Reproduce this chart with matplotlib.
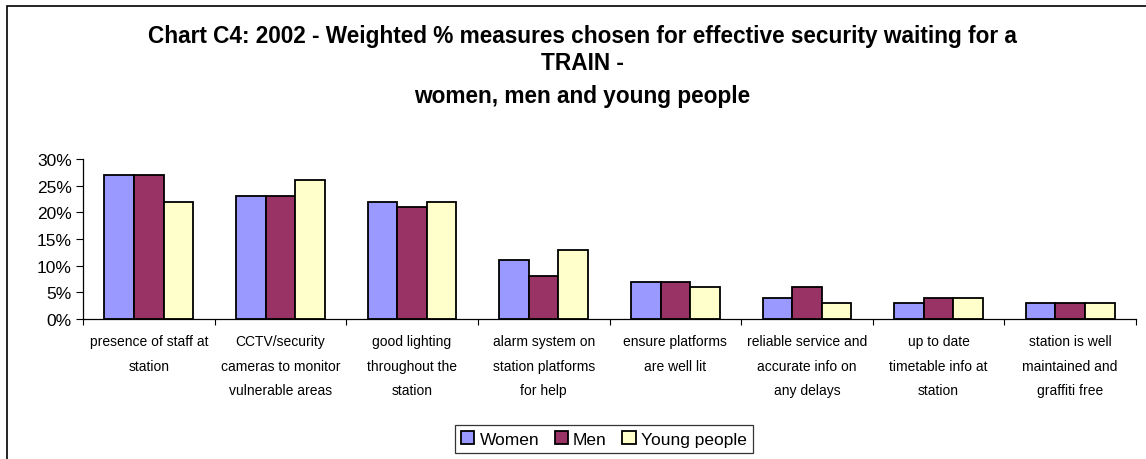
import matplotlib
matplotlib.use("Agg")
import matplotlib.pyplot as plt
import numpy as np
from matplotlib.patches import Rectangle
from matplotlib.ticker import FuncFormatter

categories = [
    "presence of staff at\nstation",
    "CCTV/security\ncameras to monitor\nvulnerable areas",
    "good lighting\nthroughout the\nstation",
    "alarm system on\nstation platforms\nfor help",
    "ensure platforms\nare well lit",
    "reliable service and\naccurate info on\nany delays",
    "up to date\ntimetable info at\nstation",
    "station is well\nmaintained and\ngraffiti free",
]
women = [27, 23, 22, 11, 7, 4, 3, 3]
men = [27, 23, 21, 8, 7, 6, 4, 3]
young = [22, 26, 22, 13, 6, 3, 4, 3]
series_names = ["Women", "Men", "Young people"]
yticks = [0, 5, 10, 15, 20, 25, 30]

plt.rcParams['font.family'] = ['Liberation Sans', 'DejaVu Sans']

W, H = 1146, 460
fig = plt.figure(figsize=(W / 100, H / 100), dpi=100)
fig.patch.set_facecolor("white")

# outer chart frame
fig.patches.append(Rectangle((7 / W, -0.05), 1.2, 1 - 7 / H + 0.05, transform=fig.transFigure,
                             fill=False, edgecolor="black", linewidth=1.2))

ax = fig.add_axes([83 / W, 1 - 320 / H, (1136 - 83) / W, (320 - 160) / H])
x = np.arange(len(categories))
bw = 0.225
colors = ["#9999FF", "#993366", "#FFFFCC"]
for i, (vals, c, name) in enumerate(zip([women, men, young], colors, series_names)):
    ax.bar(x + (i - 1) * bw, vals, bw, color=c, edgecolor="black", linewidth=1.3, label=name)

ax.set_xlim(-0.5, len(categories) - 0.5)
ax.set_ylim(0, 30)
ax.set_yticks(yticks)
ax.yaxis.set_major_formatter(FuncFormatter(lambda v, p: f"{int(v)}%"))
ax.tick_params(axis="y", labelsize=12.5, length=5, width=0.8, direction="out", pad=3)

ax.set_xticks(np.arange(len(categories) + 1) - 0.5)
ax.set_xticklabels([])
ax.tick_params(axis="x", which="major", length=4, width=0.8, direction="out")
ax.set_xticks(x, minor=True)
ax.set_xticklabels(categories, minor=True, fontsize=10, linespacing=1.95, va="top")
ax.tick_params(axis="x", which="minor", length=0, pad=11)

for s in ["top", "right"]:
    ax.spines[s].set_visible(False)
ax.spines["left"].set_color("black")
ax.spines["bottom"].set_color("black")
ax.spines["left"].set_linewidth(0.9)
ax.spines["bottom"].set_linewidth(0.9)

tfs = 16.3
fig.text(582 / W, 1 - 37 / H, "Chart C4: 2002 - Weighted % measures chosen for effective security waiting for a",
         ha="center", va="center", fontsize=tfs, fontweight="bold")
fig.text(582 / W, 1 - 64 / H, "TRAIN -", ha="center", va="center", fontsize=tfs, fontweight="bold")
fig.text(582 / W, 1 - 97 / H, "women, men and young people", ha="center", va="center",
         fontsize=tfs, fontweight="bold")

leg = fig.legend(loc="center", bbox_to_anchor=(604 / W, 1 - 440 / H), ncol=3, frameon=True,
                 fancybox=False, edgecolor="black", fontsize=12.5, handlelength=0.75,
                 handleheight=0.75, handletextpad=0.3, columnspacing=0.9, borderpad=0.35)
leg.get_frame().set_linewidth(0.9)

fig.savefig("out.png", dpi=100)
